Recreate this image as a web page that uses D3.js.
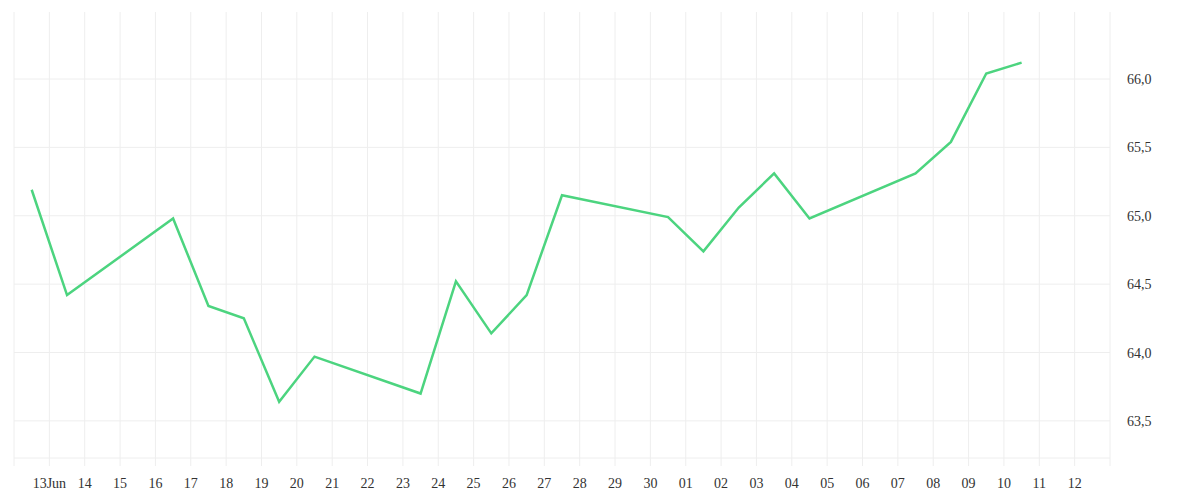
<!DOCTYPE html>
<html><head><meta charset="utf-8">
<script src="https://cdn.jsdelivr.net/npm/d3@7"></script>
<style>body{margin:0;background:#fff}text{font-family:"Liberation Serif",serif;font-size:14px;fill:#333}</style>
</head><body><div id="chart"></div>
<script>
const dates = ["2023-06-12","2023-06-13","2023-06-16","2023-06-17","2023-06-18","2023-06-19","2023-06-20","2023-06-23","2023-06-24","2023-06-25","2023-06-26","2023-06-27","2023-06-30","2023-07-01","2023-07-02","2023-07-03","2023-07-04","2023-07-07","2023-07-08","2023-07-09","2023-07-10"];
const values = [65.19,64.42,64.98,64.34,64.25,63.64,63.97,63.70,64.52,64.14,64.42,65.15,64.99,64.74,65.06,65.31,64.98,65.31,65.54,66.04,66.12];
const yTicks = [63.5,64.0,64.5,65.0,65.5,66.0];

const width = 1200, height = 500;
const plot = {left: 14, right: 1110, top: 12, bottom: 466};
const parse = d3.timeParse("%Y-%m-%d");
const data = dates.map((d, i) => ({date: d3.timeHour.offset(parse(d), 12), value: values[i]}));

const svg = d3.select("#chart").append("svg").attr("width", width).attr("height", height);

const x = d3.scaleTime().domain([parse("2023-06-12"), parse("2023-07-13")]).range([plot.left, plot.right]);
const y = d3.scaleLinear().domain([63.17, 66.49]).range([plot.bottom, plot.top]);

const days = d3.timeDay.range(parse("2023-06-13"), parse("2023-07-13"));

// grid
svg.append("g").selectAll("line").data(d3.timeDay.range(parse("2023-06-12"), parse("2023-07-14")))
  .join("line").attr("x1", d => x(d)).attr("x2", d => x(d)).attr("y1", plot.top).attr("y2", plot.bottom)
  .attr("stroke", "#eee");
svg.append("g").selectAll("line").data(yTicks)
  .join("line").attr("x1", plot.left).attr("x2", plot.right).attr("y1", d => y(d)).attr("y2", d => y(d))
  .attr("stroke", "#eee");
svg.append("line").attr("x1", plot.left).attr("x2", plot.right).attr("y1", 458).attr("y2", 458).attr("stroke", "#eee");

// x labels
svg.append("g").selectAll("text").data(days).join("text")
  .attr("x", d => x(d)).attr("y", 488).attr("text-anchor", "middle")
  .text(d => d.getDate() === 13 && d.getMonth() === 5 ? "13Jun" : d3.timeFormat("%d")(d));

// y labels
svg.append("g").selectAll("text").data(yTicks).join("text")
  .attr("x", 1127).attr("y", d => y(d) + 5)
  .text(d => d.toFixed(1).replace(".", ","));

const line = d3.line().x(d => x(d.date)).y(d => y(d.value));
svg.append("path").datum(data).attr("d", line).attr("fill", "none")
  .attr("stroke", "#4cd47f").attr("stroke-width", 2.5);
</script></body></html>
